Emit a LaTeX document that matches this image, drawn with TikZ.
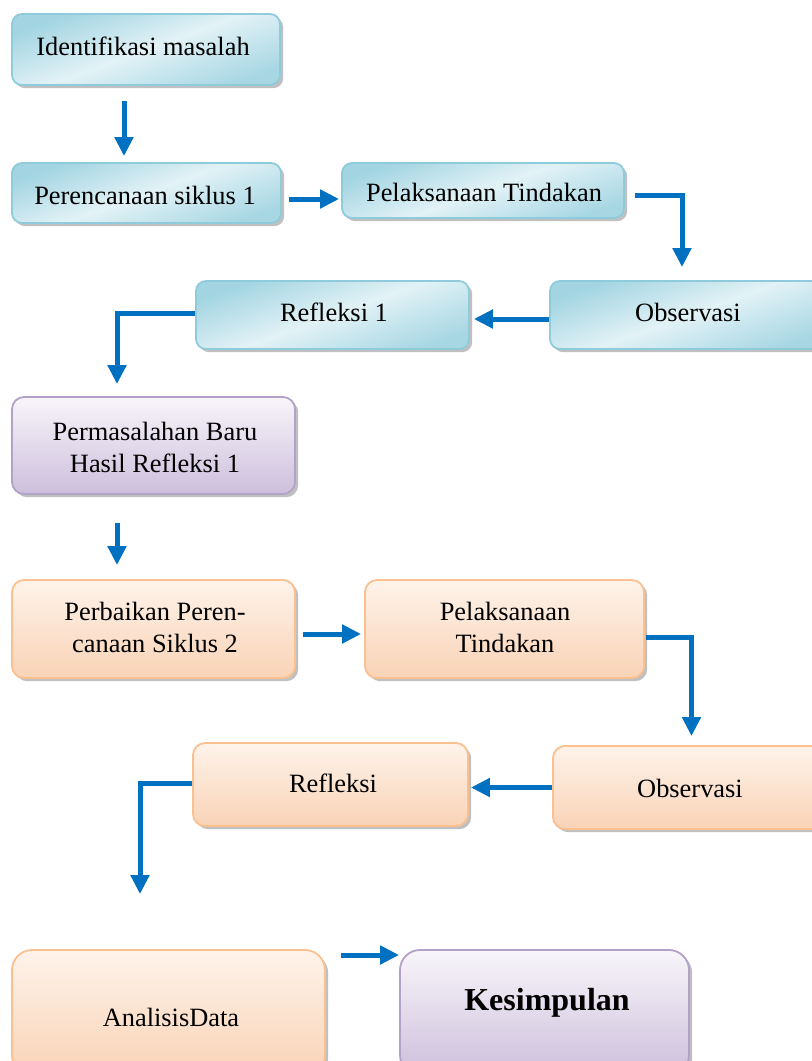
\documentclass[tikz,border=0pt]{standalone}
\usepackage{fontspec}
\setmainfont{Liberation Serif}
\usetikzlibrary{arrows.meta,calc,shadows}
\definecolor{arrblue}{HTML}{0070C0}
\definecolor{bluedraw}{HTML}{8FCBDB}
\definecolor{bluetop}{HTML}{A2D4E2}
\definecolor{bluemid}{HTML}{E2F2F6}
\definecolor{bluebot}{HTML}{A8D7E4}
\definecolor{purpdraw}{HTML}{B3A2C7}
\definecolor{purptop}{HTML}{F8F5FA}
\definecolor{purpbot}{HTML}{CDBFDC}
\definecolor{orgdraw}{HTML}{FAC090}
\definecolor{orgtop}{HTML}{FEF3EA}
\definecolor{orgbot}{HTML}{F9D3B6}
\tikzset{
  x=0.5pt, y=-0.5pt,
  box/.style={rectangle, rounded corners=5pt, line width=0.9pt, inner sep=0pt,
    drop shadow={shadow xshift=1.6pt, shadow yshift=-1.6pt, fill=black!45, opacity=0.55}},
  bluebox/.style={box, draw=bluedraw, top color=bluetop, bottom color=bluebot, middle color=bluemid, shading angle=20},
  purpbox/.style={box, draw=purpdraw, top color=purptop, bottom color=purpbot},
  orgbox/.style={box, draw=orgdraw, top color=orgtop, bottom color=orgbot},
  txt/.style={font=\fontsize{13.2pt}{16pt}\selectfont, align=center, inner sep=0pt},
  arr/.style={draw=arrblue, line width=2.5pt, -{Triangle[width=9pt,length=9.5pt]}}
}
\begin{document}
\begin{tikzpicture}
\useasboundingbox (0,0) rectangle (812,1061);
% boxes
\node[bluebox, minimum width=134pt, minimum height=35.5pt] (b1) at (146,49.5) {};
\node[bluebox, minimum width=134.5pt, minimum height=30pt] (b2) at (146.5,193) {};
\node[bluebox, minimum width=141pt, minimum height=27.5pt] (b3) at (483,190.5) {};
\node[bluebox, minimum width=138pt, minimum height=34pt] (b4) at (688,315) {};
\node[bluebox, minimum width=136.5pt, minimum height=34pt] (b5) at (332.5,315) {};
\node[purpbox, rounded corners=6pt, minimum width=141.5pt, minimum height=48.5pt] (b6) at (153.5,445.5) {};
\node[orgbox, rounded corners=6pt, minimum width=141.5pt, minimum height=49pt] (b7) at (153.5,629) {};
\node[orgbox, rounded corners=6pt, minimum width=139.5pt, minimum height=49pt] (b8) at (504.5,629) {};
\node[orgbox, rounded corners=6pt, minimum width=138.5pt, minimum height=41.5pt] (b9) at (691.5,787.5) {};
\node[orgbox, rounded corners=6pt, minimum width=137.5pt, minimum height=41.5pt] (b10) at (330.5,784.5) {};
\node[orgbox, rounded corners=10pt, minimum width=156.5pt, minimum height=62.5pt] (b11) at (168.5,1012.5) {};
\node[purpbox, rounded corners=10pt, minimum width=144.5pt, minimum height=62.5pt] (b12) at (544.5,1012.5) {};
% texts
\node[txt] (t1) at (143,46) {Identifikasi masalah};
\node[txt] (t2) at (145,195) {Perencanaan siklus 1};
\node[txt] (t3) at (484,192) {Pelaksanaan Tindakan};
\node[txt] (t4) at (688,312) {Observasi};
\node[txt] (t5) at (334,312) {Refleksi 1};
\node[txt] (t6) at (155,447) {Permasalahan Baru\\Hasil Refleksi 1};
\node[txt] (t7) at (155,627) {Perbaikan Peren-\\canaan Siklus 2};
\node[txt] (t8) at (505,627) {Pelaksanaan\\Tindakan};
\node[txt] (t9) at (690,788) {Observasi};
\node[txt] (t10) at (333,783) {Refleksi};
\node[txt] (t11) at (171,1017) {AnalisisData};
\node[txt, font=\fontsize{16pt}{19pt}\selectfont\bfseries] (t12) at (547,1003) {Kesimpulan};
% connectors
\draw[arr] ($(b1.south)+(-22,15)$) -- ($(b2.north)+(-22.5,-6)$);
\draw[arr] ($(b2.east)+(7,6)$) -- ($(b3.west)+(-2,8.5)$);
\draw[arr] ($(b3.east)+(10,4.5)$) -| ($(b4.north)+(-6,-13)$);
\draw[arr] ($(b4.west)+(0,4)$) -- ($(b5.east)+(4,4)$);
\draw[arr] ($(b5.west)+(0,-2)$) -| ($(b6.north)+(-36.5,-12)$);
\draw[arr] ($(b6.south)+(-36.5,28)$) -- ($(b7.north)+(-36.5,-14)$);
\draw[arr] ($(b7.east)+(7,5)$) -- ($(b8.west)+(-3,5)$);
\draw[arr] ($(b8.east)+(1,8)$) -| ($(b9.north)+(0,-9)$);
\draw[arr] ($(b9.west)+(0,0)$) -- ($(b10.east)+(2,3)$);
\draw[arr] ($(b10.west)+(0,-1.5)$) -| ($(b11.north)+(-28.5,-55)$);
\draw[arr] ($(b11.east)+(15,-57.5)$) -- ($(b12.west)+(0,-57.5)$);
\end{tikzpicture}
\end{document}
